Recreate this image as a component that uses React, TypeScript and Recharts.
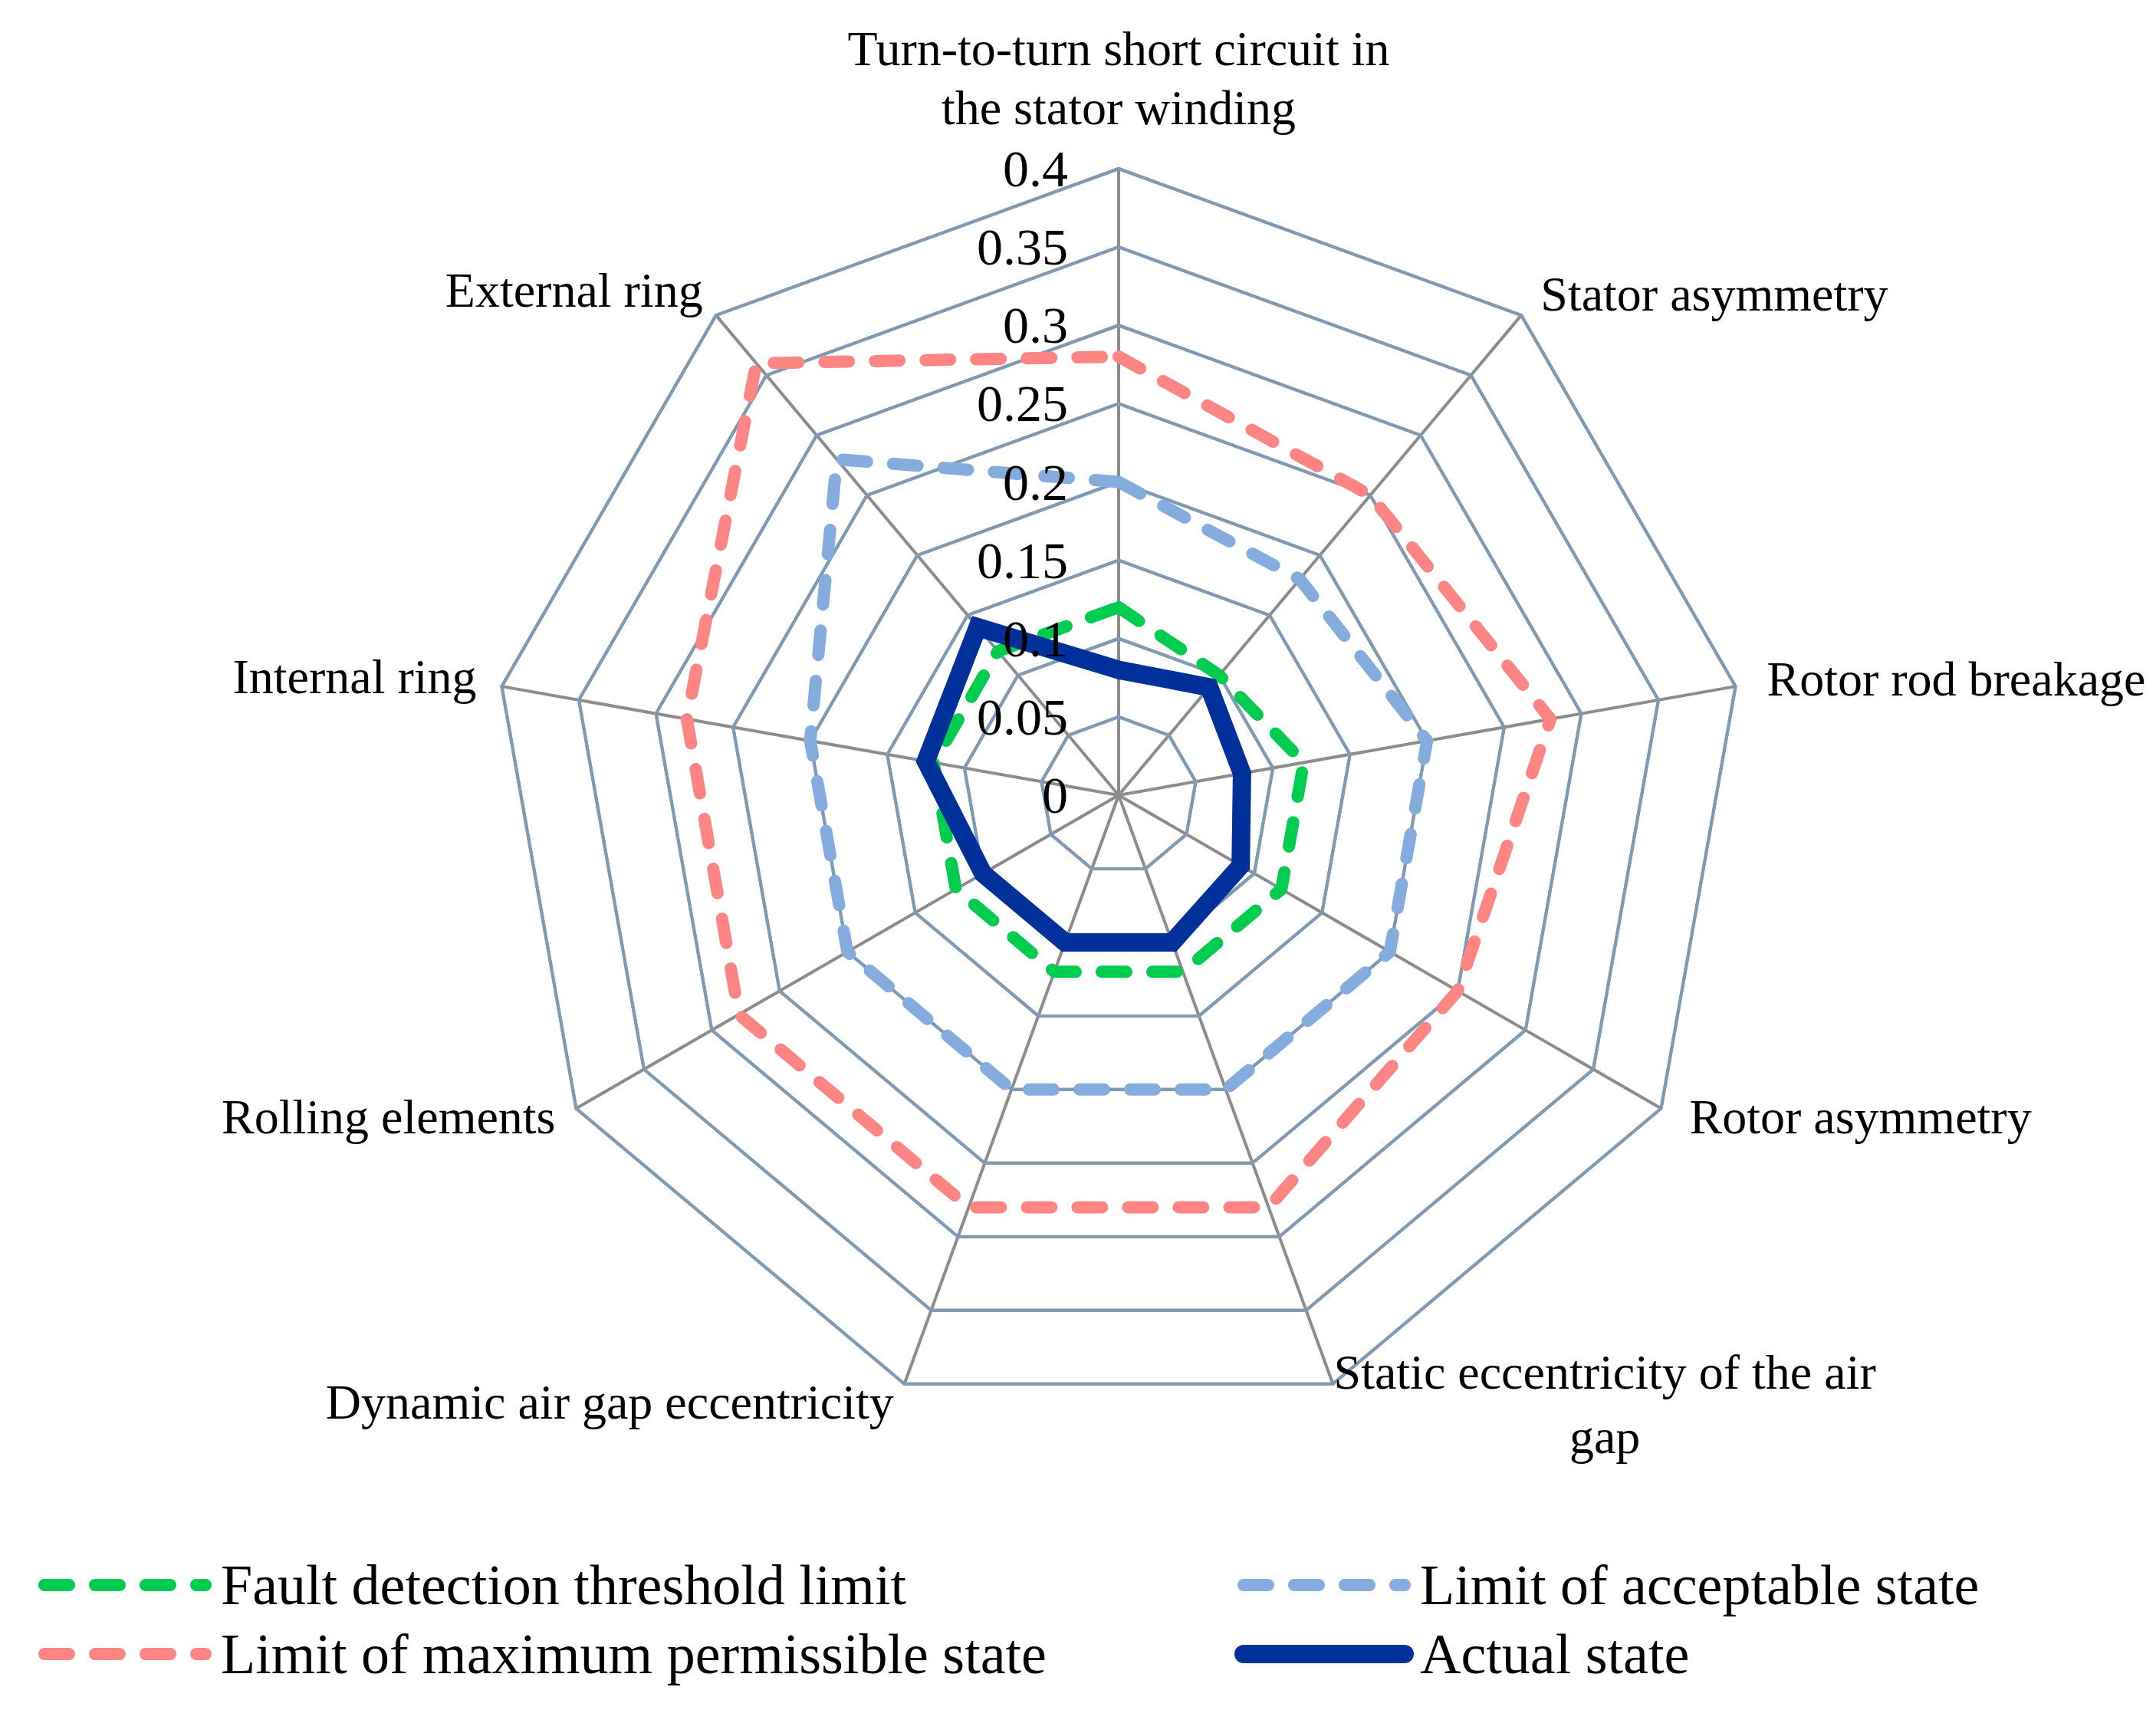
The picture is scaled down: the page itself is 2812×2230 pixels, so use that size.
import React from 'react'
import { RadarChart, Radar, PolarGrid, PolarAngleAxis, PolarRadiusAxis, Legend } from 'recharts'

const categories = [
  'Turn-to-turn short circuit in the stator winding',
  'Stator asymmetry',
  'Rotor rod breakage',
  'Rotor asymmetry',
  'Static eccentricity of the air gap',
  'Dynamic air gap eccentricity',
  'Rolling elements',
  'Internal ring',
  'External ring',
]
const categoryLines = [
  ['Turn-to-turn short circuit in', 'the stator winding'],
  ['Stator asymmetry'],
  ['Rotor rod breakage'],
  ['Rotor asymmetry'],
  ['Static eccentricity of the air', 'gap'],
  ['Dynamic air gap eccentricity'],
  ['Rolling elements'],
  ['Internal ring'],
  ['External ring'],
]

const faultThreshold = [0.12, 0.1, 0.12, 0.12, 0.12, 0.12, 0.12, 0.12, 0.12]
const acceptableLimit = [0.2, 0.18, 0.2, 0.2, 0.2, 0.2, 0.2, 0.2, 0.28]
const maxPermissible = [0.28, 0.25, 0.28, 0.25, 0.28, 0.28, 0.28, 0.28, 0.36]
const actualState = [0.08, 0.09, 0.08, 0.09, 0.1, 0.1, 0.1, 0.125, 0.14]

const radiusTicks = [0, 0.05, 0.1, 0.15, 0.2, 0.25, 0.3, 0.35, 0.4]

const series = [
  { key: 'fault', name: 'Fault detection threshold limit', color: '#00cc50', width: 16, dash: '32 34' },
  { key: 'acceptable', name: 'Limit of acceptable state', color: '#85acdd', width: 16, dash: '32 34' },
  { key: 'maximum', name: 'Limit of maximum permissible state', color: '#fe8584', width: 16, dash: '32 34' },
  { key: 'actual', name: 'Actual state', color: '#00309a', width: 24, dash: undefined as string | undefined },
]

const data = categories.map((c, i) => ({
  category: c,
  fault: faultThreshold[i],
  acceptable: acceptableLimit[i],
  maximum: maxPermissible[i],
  actual: actualState[i],
}))

const FONT = '"Liberation Serif", "Times New Roman", serif'
const W = 2812, H = 2230, CX = 1459, CY = 1037, R = 817

// label offsets from each outer vertex: dx, dy of first line, anchor, line step
const labelPos: [number, number, 'start' | 'middle' | 'end', number][] = [
  [0, -149, 'middle', 77],
  [20, -22, 'start', 0],
  [33, -8, 'start', 0],
  [30, 7, 'start', 0],
  [352, -23, 'middle', 84],
  [-11, 16, 'end', 0],
  [-20, 7, 'end', 0],
  [-25, -11, 'end', 0],
  [-12, -27, 'end', 0],
]

const fmt = (v: number) => String(Number(v.toFixed(2)))

function AngleTick(props: any) {
  const { x, y, payload } = props
  const i = categories.indexOf(payload.value)
  const [dx, dy, anchor, step] = labelPos[i]
  return (
    <g>
      {categoryLines[i].map((line, k) => (
        <text key={k} x={x + dx} y={y + dy + k * step} textAnchor={anchor} dominantBaseline="central"
          fontFamily={FONT} fontSize={64} fill="#000">{line}</text>
      ))}
    </g>
  )
}

function RadiusTick(props: any) {
  const { x, y, payload } = props
  return (
    <text x={x - 66} y={y} textAnchor="end" dominantBaseline="central" fontFamily={FONT} fontSize={68} fill="#000">
      {fmt(payload.value)}
    </text>
  )
}

function LegendBox(props: any) {
  const payload = props.payload || []
  return (
    <svg width={W} height={230} style={{ display: 'block' }}>
      {series.map((s, i) => {
        const p = payload.find((d: any) => d.dataKey === s.key)
        const col = i % 2, row = Math.floor(i / 2)
        const x0 = col ? 1622 : 58
        const y = row ? 157 : 67
        return (
          <g key={s.key}>
            <line x1={x0} x2={x0 + 210} y1={y} y2={y} stroke={p ? p.color : s.color} strokeWidth={s.width}
              strokeDasharray={s.dash} strokeLinecap="round" />
            <text x={x0 + 230} y={y} dominantBaseline="central" fontFamily={FONT} fontSize={74} fill="#000">
              {p ? p.value : s.name}
            </text>
          </g>
        )
      })}
    </svg>
  )
}

export default function App() {
  return (
    <div style={{ position: 'absolute', left: 0, top: 0, width: W, height: H, background: '#fff' }}>
      <RadarChart width={W} height={H} data={data} cx={CX} cy={CY} outerRadius={R}
        margin={{ top: 0, right: 0, bottom: 0, left: 0 }}>
        <PolarGrid gridType="polygon" stroke="#8c8c8c" strokeWidth={4} />
        <PolarGrid gridType="polygon" radialLines={false} stroke="#7f9ab5" strokeWidth={4} />
        <PolarAngleAxis dataKey="category" tick={AngleTick} tickLine={false} tickSize={0} axisLine={false} />
        <PolarRadiusAxis angle={90} type="number" scale="linear" allowDataOverflow
          domain={[radiusTicks[0], radiusTicks[radiusTicks.length - 1]]}
          ticks={radiusTicks} tickCount={radiusTicks.length} axisLine={false} tick={RadiusTick} />
        {series.map(s => (
          <Radar key={s.key} name={s.name} dataKey={s.key} stroke={s.color} strokeWidth={s.width}
            strokeDasharray={s.dash} strokeLinecap="round" strokeLinejoin={s.dash ? 'round' : 'miter'}
            fill="none" fillOpacity={0} dot={false} isAnimationActive={false} />
        ))}
        <Legend verticalAlign="bottom" content={LegendBox}
          wrapperStyle={{ position: 'absolute', left: 0, top: 2000, width: W, height: 230 }} />
      </RadarChart>
    </div>
  )
}
